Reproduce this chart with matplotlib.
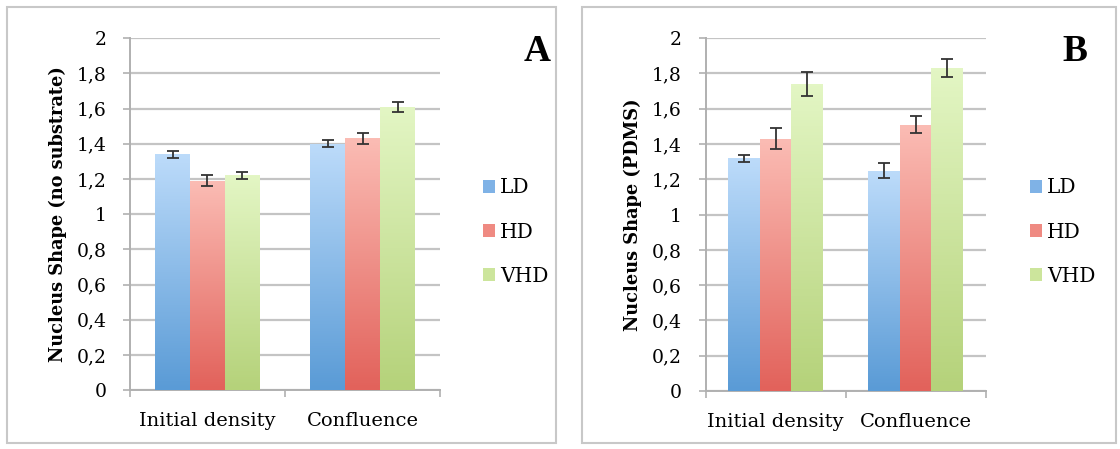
import numpy as np
import matplotlib.pyplot as plt
from matplotlib.patches import Rectangle, Patch
from matplotlib.colors import LinearSegmentedColormap

categories = ["Initial density", "Confluence"]
series = ["LD", "HD", "VHD"]

# panel A: no substrate
a_vals = [[1.34, 1.40], [1.19, 1.43], [1.22, 1.61]]
a_errs = [[0.02, 0.02], [0.03, 0.03], [0.02, 0.03]]
# panel B: PDMS
b_vals = [[1.32, 1.25], [1.43, 1.51], [1.74, 1.83]]
b_errs = [[0.02, 0.04], [0.06, 0.05], [0.07, 0.05]]

yticks = [0, 0.2, 0.4, 0.6, 0.8, 1, 1.2, 1.4, 1.6, 1.8, 2]
ytick_labels = ["0", "0,2", "0,4", "0,6", "0,8", "1", "1,2", "1,4", "1,6", "1,8", "2"]

# gradient top -> bottom
grads = [("#bcdbfa", "#5a9bd6"), ("#fbbcb4", "#e2625b"), ("#e3f6c4", "#b5d27a")]
legend_cols = ["#7fb2e6", "#ef8a82", "#cce59c"]

serif = "DejaVu Serif"


def panel(fig, rect, vals, errs, ylabel, letter, leg_anchor, letter_pos):
    ax = fig.add_axes(rect)
    x = np.arange(len(categories))
    w = 0.225
    for i, name in enumerate(series):
        bars = ax.bar(x + (i - 1) * w, vals[i], w, yerr=errs[i], color="none",
                      edgecolor="none", zorder=3,
                      error_kw=dict(ecolor="#333333", elinewidth=1.3, capsize=4, capthick=1.3, zorder=5))
        cmap = LinearSegmentedColormap.from_list(name, [grads[i][1], grads[i][0]])
        for b in bars:
            x0, h = b.get_x(), b.get_height()
            im = ax.imshow(np.linspace(0, 1, 100).reshape(-1, 1), cmap=cmap, aspect="auto",
                           origin="lower", extent=[x0, x0 + b.get_width(), 0, h], zorder=3)
            im.set_clip_path(b)
    ax.set_xlim(-0.5, 1.5)
    ax.set_ylim(0, 2)
    ax.set_yticks(yticks)
    ax.set_yticklabels(ytick_labels, fontfamily=serif, fontsize=13.5)
    ax.set_xticks([-0.5, 0.5, 1.5])
    ax.set_xticklabels([])
    ax.set_xticks(x, minor=True)
    ax.set_xticklabels(categories, minor=True, fontfamily=serif, fontsize=14)
    ax.tick_params(axis="x", which="minor", length=0, pad=16)
    ax.tick_params(axis="x", which="major", length=5, color="#b0b0b0", width=1.2)
    ax.tick_params(axis="y", length=5, color="#b0b0b0", width=1.2, pad=12)
    ax.grid(axis="y", color="#c4c4c4", linewidth=1.6, zorder=0)
    ax.set_axisbelow(True)
    for s in ["top", "right"]:
        ax.spines[s].set_visible(False)
    for s in ["left", "bottom"]:
        ax.spines[s].set_color("#b0b0b0")
        ax.spines[s].set_linewidth(1.4)
    ax.set_ylabel(ylabel, fontfamily=serif, fontsize=12.8, fontweight="bold", labelpad=7)
    handles = [Patch(facecolor=c, edgecolor="none") for c in legend_cols]
    fig.legend(handles, series, loc="center left", bbox_to_anchor=leg_anchor, frameon=False,
               prop={"family": serif, "size": 14.5}, handlelength=0.6, handleheight=0.6,
               handletextpad=0.25, labelspacing=1.25)
    fig.text(letter_pos[0], letter_pos[1], letter, fontfamily="Liberation Serif", fontweight="bold",
             fontsize=27, ha="center", va="center")
    return ax


fig = plt.figure(figsize=(11.2, 4.49), dpi=100)
fig.patches.append(Rectangle((0.006, 0.013), 0.49, 0.972, transform=fig.transFigure,
                             fill=False, edgecolor="#c8c8c8", linewidth=1.5))
fig.patches.append(Rectangle((0.52, 0.013), 0.476, 0.972, transform=fig.transFigure,
                             fill=False, edgecolor="#c8c8c8", linewidth=1.5))

panel(fig, [0.116, 0.131, 0.277, 0.784], a_vals, a_errs, "Nucleus Shape (no substrate)", "A",
      (0.415, 0.483), (0.48, 0.885))
panel(fig, [0.63, 0.129, 0.25, 0.786], b_vals, b_errs, "Nucleus Shape (PDMS)", "B",
      (0.9036, 0.483), (0.96, 0.885))

fig.savefig("out.png", dpi=100)
